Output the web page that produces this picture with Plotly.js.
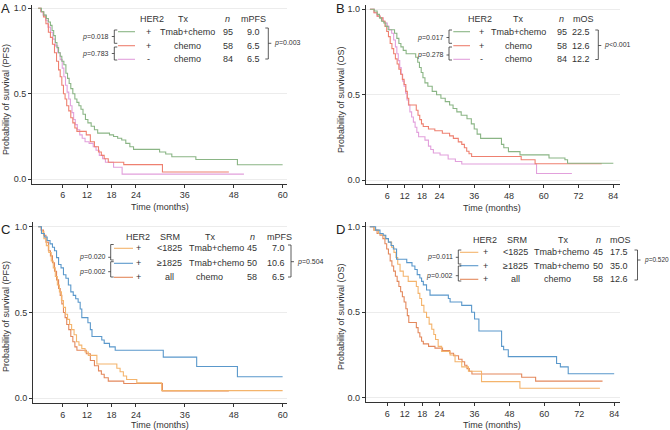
<!DOCTYPE html>
<html><head><meta charset="utf-8">
<script src="https://cdn.plot.ly/plotly-3.0.1.min.js"></script>
<style>html,body{margin:0;padding:0;background:#fff}#chart{width:670px;height:430px}</style>
</head><body><div id="chart"></div>
<script>
// ---------- Panel A: PFS by HER2 / treatment ----------
const pfsTmabT = [0, 0.8, 1.4, 2.0, 2.5, 3.0, 3.4, 3.8, 4.2, 4.6, 5.0, 5.4, 5.8, 6.3, 6.8, 7.2, 7.6, 8.0, 8.5, 9.0, 9.5, 10.0, 10.5, 11.0, 11.6, 12.2, 13.0, 13.8, 14.6, 17.5, 18.5, 19.5, 20.5, 21.5, 22.5, 23.4, 29.8, 31.3, 32.8, 38.7, 48.9, 60.0];
const pfsTmabS = [1.0, 0.98, 0.96, 0.94, 0.92, 0.90, 0.87, 0.84, 0.80, 0.77, 0.74, 0.72, 0.69, 0.67, 0.62, 0.59, 0.56, 0.53, 0.50, 0.47, 0.45, 0.43, 0.41, 0.38, 0.35, 0.33, 0.31, 0.29, 0.27, 0.26, 0.25, 0.24, 0.23, 0.21, 0.19, 0.175, 0.16, 0.148, 0.132, 0.116, 0.085, 0.085];
const pfsChemoPosT = [0, 0.7, 1.3, 1.9, 2.5, 3.0, 3.5, 4.0, 4.5, 5.0, 5.4, 5.8, 6.2, 6.6, 7.0, 7.5, 8.0, 8.5, 9.0, 9.5, 11.8, 12.8, 13.8, 14.8, 15.5, 16.2, 17.2, 21.0, 30.5, 46.8];
const pfsChemoPosS = [1.0, 0.98, 0.95, 0.91, 0.86, 0.83, 0.79, 0.74, 0.69, 0.64, 0.60, 0.55, 0.50, 0.47, 0.43, 0.40, 0.36, 0.33, 0.30, 0.28, 0.26, 0.22, 0.19, 0.16, 0.14, 0.12, 0.10, 0.086, 0.043, 0.043];
const pfsChemoNegT = [0, 0.6, 1.2, 1.8, 2.4, 3.0, 3.6, 4.2, 4.8, 5.4, 5.9, 6.3, 6.7, 7.1, 7.5, 7.9, 8.3, 8.7, 9.1, 9.6, 10.2, 10.8, 11.5, 12.5, 13.5, 14.2, 15.0, 15.8, 16.5, 18.5, 20.6, 50.5];
const pfsChemoNegS = [1.0, 0.98, 0.96, 0.93, 0.89, 0.86, 0.82, 0.78, 0.74, 0.70, 0.65, 0.60, 0.55, 0.51, 0.47, 0.43, 0.39, 0.35, 0.32, 0.29, 0.26, 0.24, 0.22, 0.21, 0.19, 0.17, 0.14, 0.12, 0.10, 0.07, 0.03, 0.03];

// ---------- Panel B: OS by HER2 / treatment ----------
const osTmabT = [0, 1.5, 2.5, 3.3, 4.0, 4.8, 5.5, 6.3, 8.5, 9.3, 10.0, 10.7, 11.5, 12.5, 15.8, 16.5, 17.1, 17.7, 18.3, 19.0, 20.0, 21.5, 23.0, 24.5, 26.0, 27.5, 28.7, 30.0, 31.5, 33.5, 35.0, 36.0, 37.0, 38.2, 45.4, 46.2, 47.8, 51.8, 61.8, 67.3, 68.2, 84.0];
const osTmabS = [1.0, 0.99, 0.97, 0.95, 0.93, 0.92, 0.90, 0.88, 0.86, 0.83, 0.80, 0.78, 0.76, 0.74, 0.72, 0.69, 0.66, 0.63, 0.60, 0.57, 0.55, 0.52, 0.50, 0.48, 0.46, 0.44, 0.42, 0.40, 0.38, 0.36, 0.33, 0.30, 0.27, 0.245, 0.21, 0.19, 0.168, 0.149, 0.13, 0.12, 0.10, 0.10];
const osChemoPosT = [0, 1.4, 2.5, 3.5, 4.5, 5.2, 5.8, 6.4, 7.0, 7.6, 8.2, 8.8, 9.4, 10.0, 10.6, 11.2, 11.8, 12.4, 12.9, 13.4, 16.0, 16.6, 17.2, 17.8, 18.4, 20.2, 22.4, 25.0, 27.5, 28.8, 30.5, 31.7, 32.6, 33.4, 34.2, 35.1, 52.2, 57.0, 80.0];
const osChemoPosS = [1.0, 0.98, 0.96, 0.95, 0.93, 0.90, 0.87, 0.84, 0.80, 0.77, 0.74, 0.71, 0.68, 0.65, 0.62, 0.59, 0.56, 0.52, 0.48, 0.44, 0.41, 0.38, 0.355, 0.33, 0.315, 0.30, 0.29, 0.275, 0.26, 0.245, 0.225, 0.21, 0.19, 0.17, 0.155, 0.139, 0.12, 0.097, 0.097];
const osChemoNegT = [0, 1.5, 2.5, 3.5, 4.5, 5.2, 6.0, 6.6, 7.5, 8.2, 8.8, 9.3, 9.8, 10.3, 10.8, 11.3, 11.8, 12.3, 12.8, 13.3, 13.8, 14.4, 15.0, 15.6, 16.2, 16.8, 19.0, 20.2, 21.0, 21.9, 24.2, 27.0, 29.5, 31.7, 57.5, 69.7];
const osChemoNegS = [1.0, 0.98, 0.96, 0.95, 0.93, 0.92, 0.90, 0.88, 0.86, 0.82, 0.78, 0.74, 0.70, 0.66, 0.62, 0.58, 0.55, 0.51, 0.47, 0.44, 0.40, 0.37, 0.34, 0.31, 0.28, 0.255, 0.235, 0.20, 0.18, 0.16, 0.148, 0.125, 0.11, 0.095, 0.04, 0.04];

// ---------- Panel C: PFS by SRM ----------
const pfsLowT = [0, 0.8, 1.4, 2.0, 2.6, 3.2, 3.7, 4.2, 4.7, 5.2, 5.7, 6.2, 6.7, 7.2, 7.7, 8.2, 8.8, 9.4, 10.0, 10.7, 11.5, 12.3, 14.4, 19.3, 20.1, 20.9, 21.7, 24.2, 30.3, 60.0];
const pfsLowS = [1.0, 0.97, 0.93, 0.89, 0.85, 0.80, 0.76, 0.71, 0.66, 0.62, 0.57, 0.53, 0.49, 0.46, 0.43, 0.40, 0.37, 0.33, 0.31, 0.29, 0.27, 0.25, 0.20, 0.175, 0.155, 0.13, 0.11, 0.09, 0.045, 0.045];
const pfsHighT = [0, 0.8, 1.5, 2.2, 2.9, 3.5, 4.0, 4.5, 5.0, 5.6, 6.2, 6.8, 7.4, 8.0, 8.6, 9.2, 9.8, 10.3, 10.7, 12.2, 12.8, 13.2, 15.6, 16.2, 17.5, 18.9, 30.7, 38.9, 48.9, 60.0];
const pfsHighS = [1.0, 0.96, 0.94, 0.92, 0.90, 0.88, 0.86, 0.82, 0.78, 0.76, 0.72, 0.70, 0.66, 0.62, 0.60, 0.58, 0.56, 0.52, 0.47, 0.44, 0.40, 0.36, 0.34, 0.32, 0.30, 0.28, 0.24, 0.185, 0.126, 0.126];

// ---------- Panel D: OS by SRM ----------
const osLowT = [0, 1.5, 3.0, 4.1, 5.2, 6.4, 7.5, 8.3, 9.0, 9.6, 10.4, 11.5, 13.2, 16.0, 16.6, 17.2, 17.8, 18.6, 19.5, 20.4, 21.3, 22.0, 22.6, 23.5, 24.7, 27.6, 29.3, 31.6, 33.9, 38.4, 51.6, 79.1];
const osLowS = [1.0, 0.98, 0.96, 0.95, 0.93, 0.91, 0.88, 0.85, 0.82, 0.78, 0.74, 0.71, 0.68, 0.65, 0.61, 0.58, 0.54, 0.50, 0.47, 0.43, 0.40, 0.37, 0.34, 0.30, 0.27, 0.25, 0.21, 0.18, 0.155, 0.094, 0.055, 0.055];
const osHighT = [0, 2.0, 3.5, 4.6, 5.5, 6.4, 7.3, 8.1, 9.2, 12.7, 14.5, 15.5, 16.3, 17.2, 17.8, 18.4, 19.5, 20.7, 27.0, 27.6, 31.6, 35.0, 36.0, 37.5, 45.3, 46.0, 47.6, 64.2, 65.5, 68.2, 84.0];
const osHighS = [1.0, 0.98, 0.96, 0.95, 0.93, 0.91, 0.89, 0.87, 0.81, 0.79, 0.77, 0.75, 0.72, 0.70, 0.68, 0.66, 0.63, 0.60, 0.58, 0.56, 0.54, 0.50, 0.46, 0.39, 0.30, 0.28, 0.24, 0.20, 0.18, 0.14, 0.14];

// ---------- Ticks ----------
const yTicks = [0, 0.5, 1.0];
const xTicks60 = [6, 12, 18, 24, 36, 48, 60];
const xTicks84 = [6, 12, 18, 24, 36, 48, 60, 72, 84];

// ---------- Table texts ----------
const tblAHead = ['HER2', 'Tx', '<i>n</i>', 'mPFS'];
const tblAHer2 = ['+', '+', '-'];
const tblATx = ['Tmab+chemo', 'chemo', 'chemo'];
const tblAN = ['95', '58', '84'];
const tblAMed = ['9.0', '6.5', '6.5'];
const tblAP = ['<i>p</i>=0.018', '<i>p</i>=0.783', '<i>p</i>=0.003'];

const tblBHead = ['HER2', 'Tx', '<i>n</i>', 'mOS'];
const tblBHer2 = ['+', '+', '-'];
const tblBTx = ['Tmab+chemo', 'chemo', 'chemo'];
const tblBN = ['95', '58', '84'];
const tblBMed = ['22.5', '12.6', '12.2'];
const tblBP = ['<i>p</i>=0.017', '<i>p</i>=0.278', '<i>p</i>&lt;0.001'];

const tblCHead = ['HER2', 'SRM', 'Tx', '<i>n</i>', 'mPFS'];
const tblCHer2 = ['+', '+', '+'];
const tblCSrm = ['&lt;1825', '≥1825', 'all'];
const tblCTx = ['Tmab+chemo', 'Tmab+chemo', 'chemo'];
const tblCN = ['45', '50', '58'];
const tblCMed = ['7.0', '10.6', '6.5'];
const tblCP = ['<i>p</i>=0.020', '<i>p</i>=0.002', '<i>p</i>=0.504'];

const tblDHead = ['HER2', 'SRM', 'Tx', '<i>n</i>', 'mOS'];
const tblDHer2 = ['+', '+', '+'];
const tblDSrm = ['&lt;1825', '≥1825', 'all'];
const tblDTx = ['Tmab+chemo', 'Tmab+chemo', 'chemo'];
const tblDN = ['45', '50', '58'];
const tblDMed = ['17.5', '35.0', '12.6'];
const tblDP = ['<i>p</i>=0.011', '<i>p</i>=0.002', '<i>p</i>=0.520'];

const panelLetters = ['A', 'B', 'C', 'D'];
const yTitles = ['Probability of survival (PFS)', 'Probability of survival (OS)', 'Probability of survival (PFS)', 'Probability of survival (OS)'];
const xTitle = 'Time (months)';

// ---------- Styles ----------
const cGreen = '#8ab585', cRed = '#ee8070', cPink = '#e2a0dc';
const cLight = '#f4b46c', cBlue = '#5a98cb', cDark = '#e3885c';
const FONT = 'Liberation Sans, Arial, sans-serif';
const TXT = '#333333';
const W = 670, H = 430;
const PX = v => v / W, PY = v => 1 - v / H;

function kmTrace(t, s, color, xa, ya) {
  return {x: t, y: s, type: 'scatter', mode: 'lines', line: {shape: 'hv', color: color, width: 1.1},
          xaxis: xa, yaxis: ya, hoverinfo: 'skip', showlegend: false};
}
const data = [
  kmTrace(pfsChemoNegT, pfsChemoNegS, cPink, 'x', 'y'),
  kmTrace(pfsChemoPosT, pfsChemoPosS, cRed, 'x', 'y'),
  kmTrace(pfsTmabT, pfsTmabS, cGreen, 'x', 'y'),
  kmTrace(osChemoNegT, osChemoNegS, cPink, 'x2', 'y2'),
  kmTrace(osChemoPosT, osChemoPosS, cRed, 'x2', 'y2'),
  kmTrace(osTmabT, osTmabS, cGreen, 'x2', 'y2'),
  kmTrace(pfsChemoPosT, pfsChemoPosS, cDark, 'x3', 'y3'),
  kmTrace(pfsLowT, pfsLowS, cLight, 'x3', 'y3'),
  kmTrace(pfsHighT, pfsHighS, cBlue, 'x3', 'y3'),
  kmTrace(osChemoPosT, osChemoPosS, cDark, 'x4', 'y4'),
  kmTrace(osLowT, osLowS, cLight, 'x4', 'y4'),
  kmTrace(osHighT, osHighS, cBlue, 'x4', 'y4')
];

function xax(dom, range, ticks, anchor) {
  return {domain: dom, range: range, tickvals: ticks, ticktext: ticks.map(String), anchor: anchor,
          showline: true, linecolor: '#333', linewidth: 1, ticks: 'outside', ticklen: 3, tickcolor: '#333',
          showgrid: false, zeroline: false, tickfont: {family: FONT, size: 9, color: TXT}, fixedrange: true};
}
function yax(dom, range, anchor) {
  return {domain: dom, range: range, tickvals: yTicks, tickformat: '.1f', anchor: anchor,
          showline: true, linecolor: '#333', linewidth: 1, ticks: 'outside', ticklen: 3, tickcolor: '#333',
          showgrid: true, gridcolor: '#ececec', gridwidth: 1, zeroline: false,
          tickfont: {family: FONT, size: 9, color: TXT}, fixedrange: true};
}

const annotations = [];
const shapes = [];
function txt(x, y, text, size, opts) {
  annotations.push(Object.assign({xref: 'paper', yref: 'paper', x: PX(x), y: PY(y), text: text, showarrow: false,
    xanchor: 'center', yanchor: 'middle', font: {family: FONT, size: size, color: TXT}}, opts || {}));
}
function seg(x0, y0, x1, y1, color, w) {
  shapes.push({type: 'line', xref: 'paper', yref: 'paper', x0: PX(x0), y0: PY(y0), x1: PX(x1), y1: PY(y1),
    line: {color: color, width: w || 1}});
}
function leftBracket(x, y0, y1, yl, label) {
  seg(x, y0, x, y1, '#333', 0.8); seg(x, y0, x + 3, y0, '#333', 0.8); seg(x, y1, x + 3, y1, '#333', 0.8);
  seg(x - 2.5, yl, x, yl, '#333', 0.8);
  txt(x - 3, yl, label, 7, {xanchor: 'right'});
}
function rightBracket(x, y0, y1, yl, label, size) {
  seg(x, y0, x, y1, '#333', 0.8); seg(x - 3, y0, x, y0, '#333', 0.8); seg(x - 3, y1, x, y1, '#333', 0.8);
  seg(x, yl, x + 3, yl, '#333', 0.8);
  txt(x + 4, yl, label, size || 7, {xanchor: 'left'});
}

// Panel letters and axis titles
const letterPos = [[5, 9], [340, 9], [5, 229], [340, 229]];
const yTitlePos = [[6, 100], [341, 100], [6, 317], [341, 317]];
const xTitlePos = [[160, 207], [492, 208], [160, 425], [492, 425]];
for (let i = 0; i < 4; i++) {
  txt(letterPos[i][0], letterPos[i][1], panelLetters[i], 13, {font: {family: FONT, size: 13, color: '#222'}});
  txt(yTitlePos[i][0], yTitlePos[i][1], yTitles[i], 9, {textangle: -90});
  txt(xTitlePos[i][0], xTitlePos[i][1], xTitle, 9);
}

// Table A
(function () {
  const hy = 19, ry = [31.7, 45.7, 59.3];
  const hx = [151.7, 182.7, 227.7, 253.3];
  tblAHead.forEach((h, i) => txt(hx[i], hy, h, 9));
  const cols = [cGreen, cRed, cPink];
  for (let r = 0; r < 3; r++) {
    seg(118, ry[r], 135, ry[r], cols[r], 1.1);
    txt(148, ry[r], tblAHer2[r], 9);
    txt(187, ry[r], tblATx[r], 9);
    txt(227.7, ry[r], tblAN[r], 9);
    txt(253, ry[r], tblAMed[r], 9);
  }
  leftBracket(114.3, 30, 43.3, 36.5, tblAP[0]);
  leftBracket(114.3, 47, 60, 53.5, tblAP[1]);
  rightBracket(268.3, 28, 59, 43.3, tblAP[2]);
})();

// Table B
(function () {
  const hy = 19, ry = [31.7, 45.7, 59.3];
  const hx = [480, 517.7, 561.7, 583.3];
  tblBHead.forEach((h, i) => txt(hx[i], hy, h, 9));
  const cols = [cGreen, cRed, cPink];
  for (let r = 0; r < 3; r++) {
    seg(453.3, ry[r], 470, ry[r], cols[r], 1.1);
    txt(481.5, ry[r], tblBHer2[r], 9);
    txt(518.5, ry[r], tblBTx[r], 9);
    txt(561.7, ry[r], tblBN[r], 9);
    txt(581, ry[r], tblBMed[r], 9);
  }
  leftBracket(449, 30, 43.3, 37.5, tblBP[0]);
  leftBracket(449, 47, 60, 55, tblBP[1]);
  rightBracket(598.3, 30, 59.5, 45.5, tblBP[2]);
})();

// Table C
(function () {
  const hy = 236.7, ry = [248.3, 263.3, 277.3];
  const hx = [138.3, 170, 210, 252.3, 279];
  tblCHead.forEach((h, i) => txt(hx[i], hy, h, 9));
  const cols = [cLight, cBlue, cDark];
  for (let r = 0; r < 3; r++) {
    seg(114, ry[r], 133, ry[r], cols[r], 1.1);
    txt(138.3, ry[r], tblCHer2[r], 9);
    txt(169, ry[r], tblCSrm[r], 9);
    txt(r < 2 ? 216.7 : 209, ry[r], tblCTx[r], 9);
    txt(252.3, ry[r], tblCN[r], 9);
    txt(279, ry[r], tblCMed[r], 9, {xanchor: 'right', x: PX(287)});
  }
  leftBracket(110.7, 244.5, 260, 257.3, tblCP[0]);
  leftBracket(110.7, 261.7, 277, 271.7, tblCP[1]);
  rightBracket(291, 245, 277, 261.7, tblCP[2]);
})();

// Table D
(function () {
  const hy = 240, ry = [252.3, 265.7, 279.3];
  const hx = [485, 516.7, 563.3, 598.3, 620.8];
  tblDHead.forEach((h, i) => txt(hx[i], hy, h, 9));
  const cols = [cLight, cBlue, cDark];
  for (let r = 0; r < 3; r++) {
    seg(460, ry[r], 478.3, ry[r], cols[r], 1.1);
    txt(485.7, ry[r], tblDHer2[r], 9);
    txt(515.5, ry[r], tblDSrm[r], 9);
    txt(r < 2 ? 561.7 : 557, ry[r], tblDTx[r], 9);
    txt(598.3, ry[r], tblDN[r], 9);
    txt(622, ry[r], tblDMed[r], 9, {xanchor: 'right', x: PX(630)});
  }
  leftBracket(458.3, 250, 264, 257.3, tblDP[0]);
  leftBracket(458.3, 266, 281, 275.7, tblDP[1]);
  rightBracket(637.5, 250, 280, 260, tblDP[2], 6.5);
})();

const layout = {
  width: W, height: H, margin: {l: 0, r: 0, t: 0, b: 0}, paper_bgcolor: '#fff', plot_bgcolor: '#fff',
  showlegend: false, font: {family: FONT, size: 9, color: TXT},
  xaxis: xax([32 / W, 287 / W], [-1.52, 61.07], xTicks60, 'y'),
  yaxis: yax([1 - 183.5 / H, 1 - 5 / H], [-0.0246, 1.0193], 'x'),
  xaxis2: xax([365.7 / W, 620 / W], [-1.45, 86.3], xTicks84, 'y2'),
  yaxis2: yax([1 - 184 / H, 1 - 5 / H], [-0.0216, 1.0251], 'x2'),
  xaxis3: xax([33 / W, 287 / W], [-1.28, 61.07], xTicks60, 'y3'),
  yaxis3: yax([1 - 402.7 / H, 1 - 222 / H], [-0.0256, 1.0274], 'x3'),
  xaxis4: xax([365.7 / W, 620 / W], [-1.41, 86.0], xTicks84, 'y4'),
  yaxis4: yax([1 - 401.7 / H, 1 - 222 / H], [-0.0234, 1.0275], 'x4'),
  annotations: annotations, shapes: shapes
};
Plotly.newPlot('chart', data, layout, {displayModeBar: false, staticPlot: true});
</script></body></html>
